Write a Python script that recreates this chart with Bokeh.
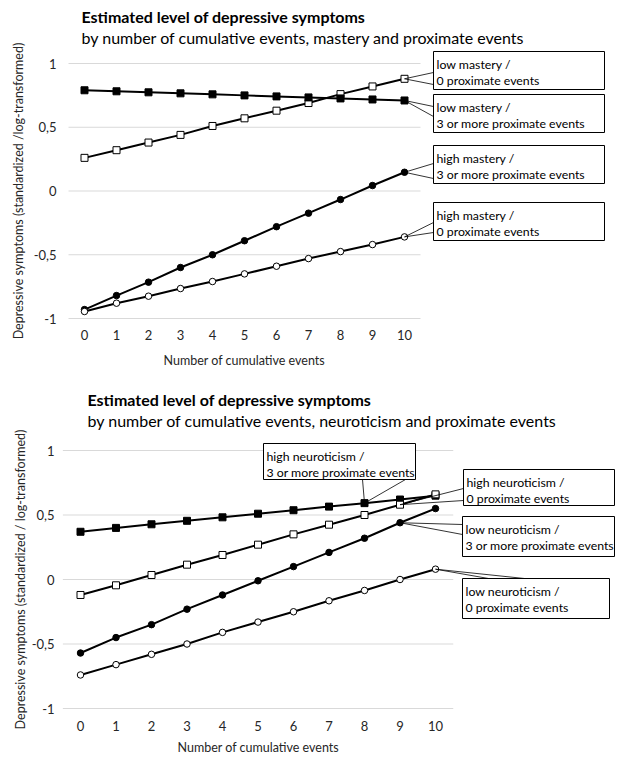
from bokeh.plotting import figure
from bokeh.models import Range1d, FixedTicker, CustomJSTickFormatter, Title
from bokeh.layouts import column
from bokeh.embed import file_html
from bokeh.resources import INLINE
from bokeh.core.properties import value

FONT = "Lato"

# ---------------- data ----------------
cum_events = list(range(11))
y_ticks = [-1, -0.5, 0, 0.5, 1]

# chart 1: mastery x proximate events
mastery_low_0 = [0.26, 0.32, 0.38, 0.44, 0.51, 0.57, 0.63, 0.69, 0.76, 0.82, 0.88]
mastery_low_3 = [0.79, 0.782, 0.774, 0.766, 0.758, 0.75, 0.742, 0.734, 0.726, 0.718, 0.71]
mastery_high_3 = [-0.93, -0.82, -0.715, -0.60, -0.50, -0.39, -0.28, -0.174, -0.067, 0.043, 0.147]
mastery_high_0 = [-0.945, -0.88, -0.825, -0.765, -0.71, -0.65, -0.59, -0.53, -0.475, -0.42, -0.36]

# chart 2: neuroticism x proximate events
neuro_high_3 = [0.37, 0.40, 0.428, 0.455, 0.482, 0.51, 0.537, 0.565, 0.592, 0.62, 0.65]
neuro_high_0 = [-0.12, -0.045, 0.035, 0.115, 0.19, 0.27, 0.35, 0.425, 0.50, 0.58, 0.66]
neuro_low_3 = [-0.57, -0.45, -0.35, -0.23, -0.12, -0.01, 0.10, 0.21, 0.32, 0.44, 0.55]
neuro_low_0 = [-0.74, -0.66, -0.58, -0.50, -0.41, -0.33, -0.25, -0.165, -0.085, 0.0, 0.08]

title_text = "Estimated level of depressive symptoms"
subtitle_1 = "by number of cumulative events, mastery and proximate events"
subtitle_2 = "by number of cumulative events, neuroticism and proximate events"
x_title = "Number of cumulative events"
y_title_1 = "Depressive symptoms (standardized /log-transformed)"
y_title_2 = "Depressive symptoms (standardized / log-transformed)"

W = 625
FRAME_LEFT = 62


def make_chart(g, series, callouts, subtitle, ytitle):
    # g: layout geometry in page pixels
    px0, pxu, py1, pyu, top = g["px0"], g["pxu"], g["py1"], g["pyu"], g["fig_top"]

    def X(px):
        return (px - px0) / pxu

    def Y(py):
        return 1 - (py - py1) / pyu

    fl, ft, fb = FRAME_LEFT, g["frame_top"], g["frame_bottom"]
    xr = Range1d(X(fl), X(W))
    yr = Range1d(Y(fb), Y(ft))
    p = figure(width=W, height=g["height"], x_range=xr, y_range=yr,
               output_backend="svg", toolbar_location=None, title=None,
               min_border_left=fl, min_border_right=0,
               min_border_top=ft - top, min_border_bottom=top + g["height"] - fb)
    p.outline_line_color = None
    p.xgrid.grid_line_color = None
    p.ygrid.grid_line_color = None

    # axes
    p.xaxis.ticker = FixedTicker(ticks=cum_events)
    p.yaxis.ticker = FixedTicker(ticks=y_ticks)
    p.yaxis.formatter = CustomJSTickFormatter(code="return tick.toString().replace('.', ',');")
    for ax in (p.xaxis, p.yaxis):
        ax.axis_line_color = None
        ax.major_tick_line_color = None
        ax.minor_tick_line_color = None
        ax.major_tick_out = 0
        ax.major_tick_in = 0
        ax.major_label_text_font = FONT
        ax.major_label_text_font_size = "13px"
        ax.major_label_text_color = "#262626"
    p.xaxis.major_label_standoff = g["xlab_standoff"]
    p.yaxis.major_label_standoff = g["ylab_standoff"]
    p.yaxis.axis_label = ytitle
    p.yaxis.axis_label_text_font = FONT
    p.yaxis.axis_label_text_font_size = "12.5px"
    p.yaxis.axis_label_text_font_style = "normal"
    p.yaxis.axis_label_text_color = "#262626"
    p.yaxis.axis_label_standoff = g["ytitle_standoff"]

    # gridlines over the category span
    p.segment(x0=[-0.5] * len(y_ticks), x1=[10.5] * len(y_ticks), y0=y_ticks, y1=y_ticks,
              line_color="#d9d9d9", line_width=1)

    # series
    for vals, marker, fill in series:
        p.line(cum_events, vals, line_color="black", line_width=2)
        size = 7 if marker == "square" else 6.5
        p.scatter(cum_events, vals, marker=marker, size=size, fill_color=fill,
                  line_color="black", line_width=1)

    # callouts
    for c in callouts:
        vals = c["series"]
        i = c["index"]
        wx = [cum_events[i]] + [X(px) for px, _ in c["wedge"]]
        wy = [vals[i]] + [Y(py) for _, py in c["wedge"]]
        p.patch(wx, wy, fill_color=None, line_color="black", line_width=0.8)
        l, r, t, b = c["box"]
        p.quad(left=[X(l)], right=[X(r)], top=[Y(t)], bottom=[Y(b)],
               fill_color="white", line_color="black", line_width=1)
        p.text(x=[X(l + 3)] * 2, y=[Y(t + 13), Y(t + 29)], text=c["lines"],
               text_font=value(FONT), text_font_size="12.3px", text_align="left",
               text_baseline="middle", text_color="black")

    # titles (first added is closest to the frame)
    if g["spacer"] is not None:
        p.add_layout(Title(text=" ", text_font_size="2px", standoff=g["spacer"]), "above")
    p.add_layout(Title(text=subtitle, align="left", offset=g["title_offset"],
                       vertical_align="middle", standoff=0,
                       text_font=FONT, text_font_size="16px", text_font_style="normal",
                       text_color="black"), "above")
    p.add_layout(Title(text=title_text, align="left", offset=g["title_offset"],
                       vertical_align="middle", standoff=0,
                       text_font=FONT, text_font_size="16px", text_font_style="bold",
                       text_color="black"), "above")
    # x axis title
    p.add_layout(Title(text=x_title, align="left", offset=g["xtitle_offset"],
                       vertical_align="middle", standoff=g["xtitle_standoff"],
                       text_font=FONT, text_font_size="12.5px", text_font_style="normal",
                       text_color="#262626"), "below")
    return p


series1 = [(mastery_low_0, "square", "white"), (mastery_low_3, "square", "black"),
           (mastery_high_3, "circle", "black"), (mastery_high_0, "circle", "white")]
callouts1 = [
    dict(series=mastery_low_0, index=10, box=(433, 604, 51, 89),
         wedge=[(433, 72), (433, 84)], lines=["low mastery /", "0 proximate events"]),
    dict(series=mastery_low_3, index=10, box=(433, 604, 94, 132),
         wedge=[(433, 106), (433, 116)], lines=["low mastery /", "3 or more proximate events"]),
    dict(series=mastery_high_3, index=10, box=(433, 604, 145, 183),
         wedge=[(433, 163), (433, 178)], lines=["high mastery /", "3 or more proximate events"]),
    dict(series=mastery_high_0, index=10, box=(433, 604, 202, 240),
         wedge=[(433, 222), (433, 232)], lines=["high mastery /", "0 proximate events"]),
]

series2 = [(neuro_high_3, "square", "black"), (neuro_high_0, "square", "white"),
           (neuro_low_3, "circle", "black"), (neuro_low_0, "circle", "white")]
callouts2 = [
    dict(series=neuro_high_3, index=8, box=(263, 415, 443, 479),
         wedge=[(362, 479), (405, 479)], lines=["high neuroticism /", "3 or more proximate events"]),
    dict(series=neuro_high_0, index=9, box=(463, 614, 469, 505),
         wedge=[(463, 488), (463, 500)], lines=["high neuroticism /", "0 proximate events"]),
    dict(series=neuro_low_3, index=9, box=(462, 614, 516, 556),
         wedge=[(462, 524), (462, 534)], lines=["low neuroticism /", "3 or more proximate events"]),
    dict(series=neuro_low_0, index=10, box=(462, 609, 578, 618),
         wedge=[(488, 578), (524, 578)], lines=["low neuroticism /", "0 proximate events"]),
]

geom1 = dict(px0=84, pxu=32.0, py1=63, pyu=127.5, fig_top=0, height=386,
             frame_top=47, frame_bottom=334,
             xlab_standoff=-5, ylab_standoff=6, ytitle_standoff=5,
             title_offset=19, spacer=None,
             xtitle_offset=101, xtitle_standoff=18)
geom2 = dict(px0=80, pxu=35.5, py1=450, pyu=129.0, fig_top=386, height=375,
             frame_top=441, frame_bottom=717,
             xlab_standoff=3, ylab_standoff=8, ytitle_standoff=1,
             title_offset=25, spacer=6.6,
             xtitle_offset=115, xtitle_standoff=11)

p1 = make_chart(geom1, series1, callouts1, subtitle_1, y_title_1)
p2 = make_chart(geom2, series2, callouts2, subtitle_2, y_title_2)

layout = column(p1, p2, spacing=0)
open("out.html", "w").write(file_html(layout, INLINE))
